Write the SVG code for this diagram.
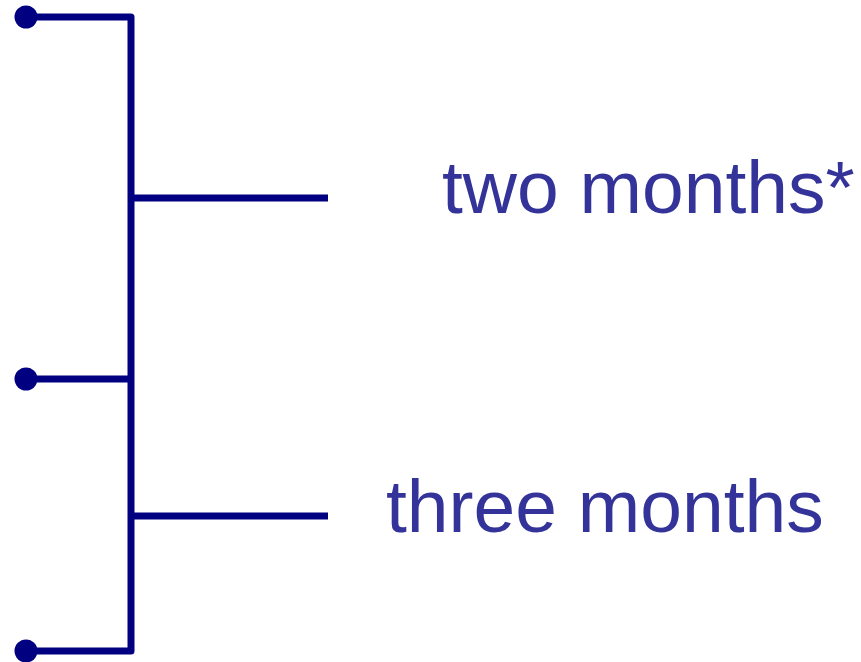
<svg xmlns="http://www.w3.org/2000/svg" width="861" height="662" viewBox="0 0 861 662">
<style>
.ln{stroke:#000080;stroke-width:7;fill:none;stroke-linejoin:round}
.dot{fill:#000080}
.lbl{font-family:"Liberation Sans",Arial,sans-serif;font-size:75px;fill:#333399}
</style>
<rect width="861" height="662" fill="#fff"/>
<g id="connectors">
<path class="ln" d="M26 17H131V651H26"/>
<path class="ln" d="M26 379H131"/>
<path class="ln" d="M131 198H328"/>
<path class="ln" d="M131 516H328"/>
</g>
<g id="node-top"><circle class="dot" cx="26" cy="17" r="11.5"/></g>
<g id="node-mid"><circle class="dot" cx="26" cy="379" r="11.5"/></g>
<g id="node-bottom"><circle class="dot" cx="26" cy="651" r="11.5"/></g>
<g id="label-two"><text class="lbl" x="442" y="213">two months*</text></g>
<g id="label-three"><text class="lbl" x="386" y="532">three months</text></g>
</svg>
